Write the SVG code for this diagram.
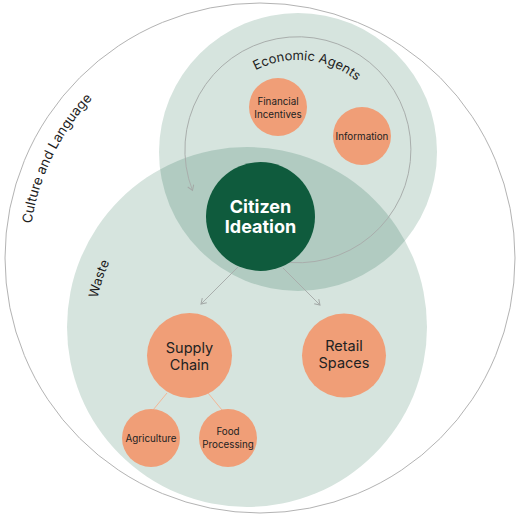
<svg xmlns="http://www.w3.org/2000/svg" width="520" height="517" viewBox="0 0 520 517">
<style>
.ring{fill:none;stroke:#b3b3b3;stroke-width:1}
.zone{fill:#d6e4de}
.lbl{font-family:Inter,"Liberation Sans",sans-serif;font-size:13px;fill:#1e1e1e}
.node{fill:#f09e77}
.nt{font-family:Inter,"Liberation Sans",sans-serif;fill:#222;text-anchor:middle}
.small{font-size:9.8px}
.mid{font-size:14.5px}
.conn{fill:none;stroke:#a9aeac;stroke-width:1}
.sub{fill:none;stroke:#f2b797;stroke-width:1}
</style>
<defs>
<marker id="chev" viewBox="0 0 8 8" refX="6" refY="4" markerWidth="8" markerHeight="8" markerUnits="userSpaceOnUse" orient="auto">
<path d="M1,0.8 L6,4 L1,7.2" fill="none" stroke="#a3a8a6" stroke-width="1"/>
</marker>
<clipPath id="econClip"><circle cx="298" cy="152" r="139"/></clipPath>
<path id="pCulture" d="M29 258 A231 231 0 0 1 260 27"/>
<path id="pEcon" d="M206 152 A92 92 0 0 1 390 152"/>
<path id="pWaste" d="M95 327 A152 152 0 0 1 247 175"/>
</defs>
<rect width="520" height="517" fill="#ffffff"/>
<g id="culture">
<circle class="ring" cx="260" cy="258" r="255"/>
<text class="lbl" style="font-size:13.5px"><textPath href="#pCulture" startOffset="105" text-anchor="middle">Culture and Language</textPath></text>
</g>
<g id="economic-agents">
<circle class="zone" cx="298" cy="152" r="139"/>
</g>
<g id="waste">
<circle class="zone" cx="247" cy="327" r="180"/>
<circle cx="247" cy="327" r="180" fill="#b1cbc1" clip-path="url(#econClip)"/>
<text class="lbl"><textPath href="#pWaste" startOffset="48" text-anchor="middle">Waste</textPath></text>
</g>
<g id="economic-label">
<text class="lbl"><textPath href="#pEcon" startOffset="154" text-anchor="middle">Economic Agents</textPath></text>
</g>
<g id="connectors">
<path class="conn" d="M278 261 A113 113 0 1 0 192.5 190.5" marker-end="url(#chev)"/>
<line class="conn" x1="238" y1="267" x2="201" y2="304" marker-end="url(#chev)"/>
<line class="conn" x1="283" y1="268" x2="320" y2="305" marker-end="url(#chev)"/>
<line class="sub" x1="167" y1="393" x2="153" y2="410"/>
<line class="sub" x1="208" y1="393" x2="222" y2="410"/>
</g>
<g id="financial-incentives">
<circle class="node" cx="278" cy="107" r="29"/>
<text class="nt small" x="278" y="105">Financial</text>
<text class="nt small" x="278" y="117.5">Incentives</text>
</g>
<g id="information">
<circle class="node" cx="362" cy="136" r="29"/>
<text class="nt small" x="362" y="139.5">Information</text>
</g>
<g id="citizen-ideation">
<circle cx="260.5" cy="216.5" r="54.5" fill="#0f5b3d"/>
<text class="nt" x="260.5" y="213" font-size="18" font-weight="700" style="fill:#fff">Citizen</text>
<text class="nt" x="260.5" y="233" font-size="18" font-weight="700" style="fill:#fff">Ideation</text>
</g>
<g id="supply-chain">
<circle class="node" cx="189.5" cy="355.5" r="42.5"/>
<text class="nt mid" x="189.5" y="353">Supply</text>
<text class="nt mid" x="189.5" y="370">Chain</text>
</g>
<g id="retail-spaces">
<circle class="node" cx="344" cy="355.5" r="42"/>
<text class="nt mid" x="344" y="351">Retail</text>
<text class="nt mid" x="344" y="368">Spaces</text>
</g>
<g id="agriculture">
<circle class="node" cx="151" cy="438" r="29"/>
<text class="nt small" x="151" y="441.5">Agriculture</text>
</g>
<g id="food-processing">
<circle class="node" cx="228" cy="438" r="29"/>
<text class="nt small" x="228" y="435">Food</text>
<text class="nt small" x="228" y="447.5">Processing</text>
</g>
</svg>
